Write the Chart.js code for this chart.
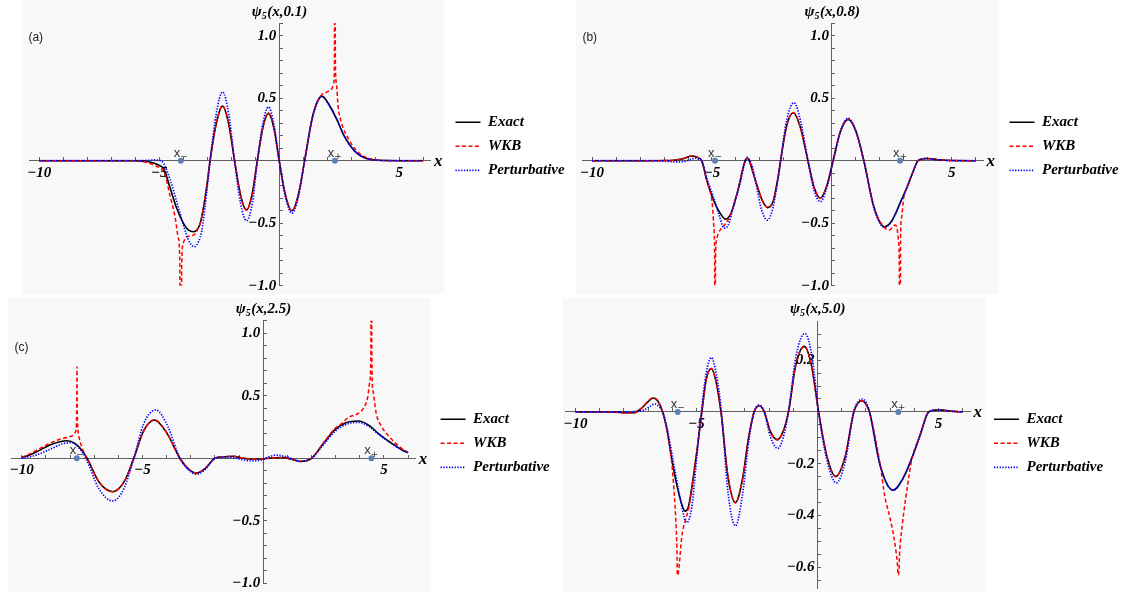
<!DOCTYPE html>
<html><head><meta charset="utf-8">
<script src="https://cdn.jsdelivr.net/npm/chart.js@4.4.1/dist/chart.umd.min.js"></script>
<style>
html,body{margin:0;padding:0;background:#fff;overflow:hidden;width:1127px;height:592px;}
.bg{position:absolute;background:#f8f8f8;}
canvas{position:absolute;left:0;top:0;}
</style></head><body>
<div class="bg" style="left:22px;top:0;width:422px;height:294px"></div>
<div class="bg" style="left:576px;top:0;width:423px;height:294px"></div>
<div class="bg" style="left:8px;top:298px;width:423px;height:294px"></div>
<div class="bg" style="left:563px;top:298px;width:422px;height:294px"></div>
<canvas id="ca" width="1127" height="592"></canvas>
<canvas id="cb" width="1127" height="592"></canvas>
<canvas id="cc" width="1127" height="592"></canvas>
<canvas id="cd" width="1127" height="592"></canvas>
<script>
// ---------- data ----------
const seriesNames = ['Exact', 'WKB', 'Perturbative'];
const titleParams = ['0.1', '0.8', '2.5', '5.0'];
const panelLetters = ['(a)', '(b)', '(c)', ''];
const turnSigns = ['\u2212', '+'];

const xTickValues = [-10, -5, 5];
const xTickText = ['\u221210', '\u22125', '5'];
const yTickValuesABC = [-1, -0.5, 0.5, 1];
const yTickTextABC = ['\u22121.0', '\u22120.5', '0.5', '1.0'];
const yTickValuesD = [-0.6, -0.4, -0.2, 0.2];
const yTickTextD = ['\u22120.6', '\u22120.4', '\u22120.2', '0.2'];

// panel (a) psi5(x,0.1)
const aExactX = [-10,-8,-6.5,-6,-5.5,-5.2,-4.97,-4.82,-4.54,-4.27,-3.99,-3.78,-3.57,-3.43,-3.29,-3.16,-3.02,-2.88,-2.62,-2.36,-2.1,-1.86,-1.61,-1.36,-1.13,-0.91,-0.68,-0.45,-0.22,0,0.26,0.53,0.8,1.06,1.4,1.78,2.1,2.4,2.7,3.0,3.3,3.6,4.0,4.5,5,6];
const aExactY = [0,0,0,-0.001,-0.006,-0.02,-0.04,-0.061,-0.221,-0.381,-0.501,-0.555,-0.568,-0.555,-0.501,-0.381,-0.208,0,0.3,0.437,0.29,0,-0.275,-0.395,-0.27,0,0.265,0.379,0.26,0,-0.275,-0.40,-0.27,0,0.36,0.517,0.44,0.33,0.2,0.11,0.05,0.02,0.005,0.001,0,0];
const aWkbX = [-10,-6,-5.8,-5.5,-5.2,-4.97,-4.82,-4.54,-4.34,-4.2,-4.14,-4.105,-4.095,-4.06,-4.0,-3.9,-3.7,-3.5,-3.4,-3.29,-3.16,-3.02,-2.88,-2.62,-2.36,-2.1,-1.86,-1.61,-1.36,-1.13,-0.91,-0.68,-0.45,-0.22,0,0.26,0.53,0.8,1.06,1.4,1.78,1.94,2.08,2.2,2.27,2.30,2.315,2.325,2.34,2.38,2.45,2.6,2.9,3.2,3.5,4.0,5,6];
const aWkbY = [0,-0.001,-0.005,-0.015,-0.035,-0.06,-0.078,-0.288,-0.448,-0.62,-0.82,-3,-3,-0.82,-0.66,-0.615,-0.603,-0.585,-0.55,-0.501,-0.381,-0.208,0,0.3,0.44,0.29,0,-0.275,-0.397,-0.27,0,0.265,0.382,0.26,0,-0.275,-0.402,-0.27,0,0.365,0.53,0.544,0.56,0.578,0.62,0.78,3,3,0.8,0.62,0.44,0.3,0.17,0.085,0.038,0.006,0,0];
const aPertX = [-10,-6,-5.5,-5.25,-5.0,-4.82,-4.54,-4.27,-3.99,-3.78,-3.54,-3.36,-3.22,-3.09,-2.95,-2.88,-2.62,-2.36,-2.1,-1.86,-1.61,-1.36,-1.11,-0.91,-0.68,-0.45,-0.22,0,0.26,0.53,0.8,1.06,1.4,1.76,2.1,2.4,2.7,3.0,3.3,3.6,4.0,4.5,5,6];
const aPertY = [0,0,0.002,0.006,0.003,-0.021,-0.155,-0.328,-0.514,-0.634,-0.688,-0.648,-0.555,-0.368,-0.128,0,0.38,0.55,0.37,0,-0.34,-0.48,-0.33,0,0.3,0.43,0.29,0,-0.29,-0.42,-0.29,0,0.355,0.512,0.44,0.33,0.2,0.11,0.05,0.02,0.005,0.001,0,0];
const aTurnX = [-4.1, 2.32];

// panel (b) psi5(x,0.8)
const bExactX = [-10,-7.5,-7.0,-6.6,-6.2,-5.85,-5.62,-5.43,-5.22,-4.94,-4.66,-4.43,-4.18,-3.9,-3.69,-3.6,-3.53,-3.46,-3.33,-3.12,-2.9,-2.68,-2.45,-2.26,-2.14,-1.9,-1.61,-1.32,-1.0,-0.74,-0.48,-0.22,0.05,0.36,0.68,1.0,1.33,1.76,2.19,2.5,2.84,3.14,3.4,3.59,3.97,4.4,5,6];
const bExactY = [0,0,0.001,0.004,0.016,0.038,0.027,0,-0.154,-0.314,-0.42,-0.468,-0.408,-0.221,-0.048,0.006,0.019,0.006,-0.07,-0.2,-0.32,-0.375,-0.325,-0.15,0,0.27,0.384,0.27,0,-0.215,-0.30,-0.205,0,0.235,0.331,0.235,0,-0.375,-0.528,-0.48,-0.34,-0.208,-0.08,0,0.018,0.008,0.001,0];
const bWkbX = [-10,-7.5,-7.0,-6.6,-6.2,-5.85,-5.62,-5.43,-5.22,-5.08,-4.98,-4.92,-4.89,-4.88,-4.87,-4.855,-4.82,-4.74,-4.6,-4.46,-4.32,-4.18,-3.9,-3.69,-3.6,-3.53,-3.46,-3.33,-3.12,-2.9,-2.68,-2.45,-2.26,-2.14,-1.9,-1.61,-1.32,-1.0,-0.74,-0.48,-0.22,0.05,0.36,0.68,1.0,1.33,1.76,2.19,2.38,2.52,2.63,2.72,2.78,2.81,2.835,2.845,2.86,2.9,2.99,3.14,3.4,3.59,3.97,4.4,5,6];
const bWkbY = [0,0,0.001,0.004,0.017,0.04,0.028,0,-0.154,-0.245,-0.36,-0.53,-0.8,-3,-3,-0.85,-0.64,-0.581,-0.541,-0.51,-0.47,-0.408,-0.221,-0.048,0.006,0.019,0.006,-0.07,-0.2,-0.32,-0.375,-0.325,-0.15,0,0.27,0.386,0.27,0,-0.215,-0.30,-0.205,0,0.235,0.332,0.235,0,-0.378,-0.535,-0.555,-0.535,-0.515,-0.545,-0.65,-0.85,-3,-3,-0.7,-0.46,-0.3,-0.208,-0.08,0,0.018,0.008,0.001,0];
const bPertX = [-10,-7.5,-7.0,-6.6,-6.2,-5.95,-5.72,-5.55,-5.43,-5.22,-4.94,-4.66,-4.5,-4.32,-4.11,-3.83,-3.65,-3.53,-3.43,-3.3,-3.14,-2.93,-2.69,-2.45,-2.26,-2.14,-1.88,-1.58,-1.3,-1.0,-0.74,-0.48,-0.22,0.05,0.36,0.68,1.0,1.33,1.76,2.19,2.5,2.84,3.14,3.4,3.59,3.97,4.4,5,6];
const bPertY = [0,0,-0.003,-0.009,-0.008,0.005,0.02,0.012,0,-0.141,-0.288,-0.46,-0.54,-0.514,-0.368,-0.181,-0.021,0.027,0.005,-0.06,-0.208,-0.395,-0.475,-0.368,-0.16,0,0.33,0.464,0.31,0,-0.24,-0.328,-0.22,0,0.24,0.34,0.235,0,-0.385,-0.533,-0.48,-0.34,-0.208,-0.08,0,0.018,0.008,0.001,0];
const bTurnX = [-4.875, 2.84];

// panel (c) psi5(x,2.5)
const cExactX = [-10,-9.7,-9.38,-8.83,-8.42,-8.11,-7.8,-7.52,-7.29,-6.8,-6.23,-5.75,-5.36,-4.95,-4.5,-4.0,-3.45,-3.1,-2.77,-2.4,-2.0,-1.6,-1.24,-0.9,-0.5,-0.1,0.3,0.8,1.15,1.52,2.0,2.5,2.95,3.4,3.93,4.4,4.76,5.36,5.8,6.0];
const cExactY = [0.006,0.025,0.053,0.107,0.133,0.141,0.12,0.067,0,-0.19,-0.267,-0.185,0,0.22,0.307,0.205,0,-0.085,-0.118,-0.08,0,0.013,0.016,0.004,-0.006,-0.006,0.003,0.006,-0.006,-0.025,0,0.12,0.225,0.283,0.299,0.262,0.2,0.115,0.062,0.045];
const cWkbX = [-10,-9.7,-9.38,-8.83,-8.42,-8.11,-7.86,-7.77,-7.735,-7.72,-7.712,-7.705,-7.69,-7.66,-7.63,-7.52,-7.4,-7.29,-6.8,-6.23,-5.75,-5.36,-4.95,-4.5,-4.0,-3.45,-3.1,-2.77,-2.4,-2.0,-1.6,-1.24,-0.9,-0.5,-0.1,0.3,0.8,1.15,1.52,2.0,2.5,2.95,3.25,3.55,3.85,4.15,4.33,4.42,4.46,4.475,4.485,4.5,4.54,4.68,4.91,5.28,5.66,6.0];
const cWkbY = [0.008,0.032,0.065,0.12,0.152,0.168,0.187,0.215,0.27,0.5,0.733,0.45,0.3,0.2,0.17,0.093,0.04,0,-0.19,-0.267,-0.185,0,0.22,0.308,0.205,0,-0.085,-0.118,-0.08,0,0.013,0.016,0.004,-0.006,-0.006,0.003,0.006,-0.006,-0.025,0,0.125,0.235,0.278,0.33,0.35,0.40,0.49,0.62,0.85,3,3,0.8,0.55,0.36,0.253,0.16,0.09,0.047];
const cPertX = [-10,-9.7,-9.38,-8.83,-8.28,-7.93,-7.58,-7.34,-6.8,-6.23,-5.75,-5.36,-4.95,-4.45,-3.95,-3.45,-3.1,-2.77,-2.4,-2.0,-1.6,-1.24,-0.9,-0.5,-0.1,0.2,0.56,1.0,1.5,2.0,2.5,2.95,3.4,3.93,4.4,4.76,5.36,5.8,6.0];
const cPertY = [0.002,0.012,0.027,0.072,0.118,0.125,0.072,0,-0.245,-0.341,-0.235,0,0.275,0.387,0.255,0,-0.09,-0.128,-0.088,0,0.008,0.006,-0.01,-0.02,-0.014,0.01,0.026,0.01,-0.022,0,0.11,0.212,0.268,0.288,0.252,0.195,0.112,0.06,0.044];
const cTurnX = [-7.72, 4.48];

// panel (d) psi5(x,5.0)
const dExactX = [-10,-8.5,-8.0,-7.6,-7.3,-7.0,-6.79,-6.6,-6.4,-6.23,-6.03,-5.82,-5.61,-5.47,-5.33,-5.2,-4.99,-4.78,-4.6,-4.39,-4.2,-3.99,-3.7,-3.39,-3.1,-2.85,-2.62,-2.4,-2.2,-1.95,-1.66,-1.42,-1.2,-0.9,-0.55,-0.25,0.045,0.4,0.75,1.15,1.5,1.68,1.84,2.0,2.15,2.6,3.12,3.55,3.9,4.24,4.6,5.02,5.5,6];
const dExactY = [0,0,-0.003,-0.003,0.012,0.04,0.054,0.042,0,-0.064,-0.179,-0.28,-0.357,-0.383,-0.364,-0.294,-0.154,0,0.125,0.168,0.12,0,-0.25,-0.35,-0.26,-0.1,0,0.024,0,-0.075,-0.107,-0.075,0,0.18,0.253,0.18,0,-0.175,-0.249,-0.17,0,0.035,0.043,0.03,0,-0.21,-0.302,-0.254,-0.178,-0.09,0,0.008,0.003,0];
const dWkbX = [-10,-8.5,-8.0,-7.6,-7.3,-7.0,-6.79,-6.6,-6.4,-6.23,-6.03,-5.92,-5.85,-5.81,-5.79,-5.77,-5.71,-5.61,-5.47,-5.33,-5.2,-4.99,-4.78,-4.6,-4.39,-4.2,-3.99,-3.7,-3.39,-3.1,-2.85,-2.62,-2.4,-2.2,-1.95,-1.66,-1.42,-1.2,-0.9,-0.55,-0.25,0.045,0.4,0.75,1.15,1.5,1.68,1.84,2.0,2.15,2.6,2.79,2.99,3.2,3.3,3.335,3.35,3.4,3.51,3.65,3.79,3.9,4.24,4.6,5.02,5.5,6];
const dWkbY = [0,0,-0.004,-0.003,0.013,0.042,0.055,0.043,0,-0.066,-0.191,-0.318,-0.43,-0.53,-0.63,-0.63,-0.585,-0.483,-0.42,-0.375,-0.3,-0.154,0,0.125,0.168,0.12,0,-0.25,-0.352,-0.26,-0.1,0,0.024,0,-0.075,-0.108,-0.075,0,0.18,0.253,0.18,0,-0.175,-0.25,-0.17,0,0.035,0.043,0.03,0,-0.21,-0.33,-0.407,-0.509,-0.585,-0.63,-0.63,-0.535,-0.432,-0.33,-0.242,-0.182,-0.09,0,0.008,0.003,0];
const dPertX = [-10,-8.0,-7.5,-7.2,-6.95,-6.72,-6.55,-6.4,-6.23,-5.96,-5.68,-5.41,-5.2,-5.02,-4.8,-4.6,-4.39,-4.18,-3.97,-3.7,-3.39,-3.1,-2.85,-2.62,-2.4,-2.2,-1.95,-1.64,-1.42,-1.2,-0.9,-0.52,-0.22,0.045,0.4,0.78,1.15,1.5,1.68,1.86,2.02,2.15,2.6,3.12,3.55,3.9,4.24,4.6,5.02,5.5,6];
const dPertY = [0,0,0.002,0.006,0.02,0.031,0.02,0,-0.058,-0.191,-0.331,-0.427,-0.37,-0.205,0,0.15,0.21,0.145,0,-0.31,-0.44,-0.32,-0.12,0,0.027,0,-0.095,-0.141,-0.1,0,0.21,0.303,0.21,0,-0.19,-0.274,-0.19,0,0.04,0.05,0.035,0,-0.21,-0.302,-0.254,-0.178,-0.09,0,0.008,0.003,0];
const dTurnX = [-5.78, 3.34];

// ---------- styles ----------
const seriesColors = ['#000000', '#ff0000', '#0000ff'];
const seriesDash = [[], [4, 2.5], [1.3, 1.5]];
const seriesWidth = [1.6, 1.5, 1.7];
const axisColor = '#606060';
const W = 1127, H = 592;

const panels = [
  { id: 'ca', ex: [aExactX, aExactY], wkb: [aWkbX, aWkbY], pt: [aPertX, aPertY], turn: aTurnX,
    area: { l: 29.1, r: 430.9, t: 23.2, b: 285.7 }, xr: [-10.42, 6.32], yr: [-1, 1.1], ystep: 0.1,
    yv: yTickValuesABC, yt: yTickTextABC, leg: { x: 455.5, y: 122.3 }, let: { x: 28.4, y: 37.7 }, titleY: 12.5 },
  { id: 'cb', ex: [bExactX, bExactY], wkb: [bWkbX, bWkbY], pt: [bPertX, bPertY], turn: bTurnX,
    area: { l: 582.0, r: 983.5, t: 23.2, b: 285.7 }, xr: [-10.42, 6.32], yr: [-1, 1.1], ystep: 0.1,
    yv: yTickValuesABC, yt: yTickTextABC, leg: { x: 1009.5, y: 122.3 }, let: { x: 582.4, y: 37.7 }, titleY: 12.5 },
  { id: 'cc', ex: [cExactX, cExactY], wkb: [cWkbX, cWkbY], pt: [cPertX, cPertY], turn: cTurnX,
    area: { l: 11.6, r: 415.8, t: 320.8, b: 583.3 }, xr: [-10.42, 6.32], yr: [-1, 1.1], ystep: 0.1,
    yv: yTickValuesABC, yt: yTickTextABC, leg: { x: 440.6, y: 419.3 }, let: { x: 14.5, y: 347.8 }, titleY: 309 },
  { id: 'cd', ex: [dExactX, dExactY], wkb: [dWkbX, dWkbY], pt: [dPertX, dPertY], turn: dTurnX,
    area: { l: 565.4, r: 970.4, t: 321.3, b: 591.7 }, xr: [-10.42, 6.32], yr: [-0.68, 0.35], ystep: 0.05,
    yv: yTickValuesD, yt: yTickTextD, leg: { x: 994, y: 419.3 }, let: { x: 0, y: 0 }, titleY: 309 }
];

const serif = 'Liberation Serif';
const tickFont = { family: serif, size: 15, style: 'italic', weight: 'bold' };

function pts(xs, ys) { return xs.map((x, i) => ({ x: x, y: ys[i] })); }
function tickCb(vals, texts, pad) {
  return function (v) {
    const i = vals.findIndex(t => Math.abs(t - v) < 1e-6);
    return i < 0 ? '' : texts[i] + pad;
  };
}
function zeroPad(scale) { scale.paddingLeft = 0; scale.paddingRight = 0; scale.paddingTop = 0; scale.paddingBottom = 0; }

const placeLegend = {
  id: 'placeLegend',
  afterLayout(chart, args, o) {
    const lg = chart.legend;
    if (!lg) return;
    const pad = lg.options.labels.padding;
    const fs = lg.options.labels.font.size;
    const w = lg.width, h = lg.height;
    lg.left = o.x - pad; lg.right = lg.left + w;
    lg.top = o.y - pad - fs / 2; lg.bottom = lg.top + h;
  }
};

const deco = {
  id: 'deco',
  afterDraw(chart, args, o) {
    const ctx = chart.ctx, ca = chart.chartArea;
    const x0 = chart.scales.x.getPixelForValue(0), y0 = chart.scales.y.getPixelForValue(0);
    ctx.save();
    ctx.fillStyle = '#000';
    ctx.textAlign = 'left';
    ctx.textBaseline = 'middle';
    const big = 'italic bold 15px "' + serif + '"', small = 'italic bold 10px "' + serif + '"';
    const rest = '(x,' + o.param + ')';
    ctx.font = big; const w1 = ctx.measureText('\u03C8').width; const w3 = ctx.measureText(rest).width;
    ctx.font = small; const w2 = ctx.measureText('5').width;
    let tx = x0 - (w1 + w2 + w3) / 2;
    ctx.font = big; ctx.fillText('\u03C8', tx, o.titleY); tx += w1;
    ctx.font = small; ctx.fillText('5', tx, o.titleY + 4); tx += w2 + 0.5;
    ctx.font = big; ctx.fillText(rest, tx, o.titleY);
    ctx.font = 'italic bold 17px "' + serif + '"';
    ctx.fillText('x', ca.right + 3, y0 + 1);
    if (o.letter) {
      ctx.font = '12px "Liberation Sans"'; ctx.fillStyle = '#222';
      ctx.fillText(o.letter, o.lx, o.ly);
    }
    const meta = chart.getDatasetMeta(3);
    ctx.fillStyle = '#333';
    ctx.textBaseline = 'alphabetic';
    meta.data.forEach((p, i) => {
      ctx.font = '13px "Liberation Sans"'; const wx = ctx.measureText('x').width;
      ctx.font = '9px "DejaVu Sans"'; const ws = ctx.measureText(turnSigns[i]).width;
      const lx = p.x - (wx + ws) / 2;
      ctx.font = '13px "Liberation Sans"'; ctx.fillText('x', lx, y0 - 4);
      ctx.font = '9px "DejaVu Sans"'; ctx.fillText(turnSigns[i], lx + wx, y0 - 1.5);
    });
    ctx.restore();
  }
};

panels.forEach((P, k) => {
  const srcs = [P.ex, P.wkb, P.pt];
  const datasets = srcs.map((s, i) => ({
    label: seriesNames[i], data: pts(s[0], s[1]), borderColor: seriesColors[i], backgroundColor: seriesColors[i],
    borderWidth: seriesWidth[i], borderDash: seriesDash[i], pointRadius: 0, fill: false,
    cubicInterpolationMode: 'monotone', order: 3 - i
  }));
  datasets.push({ label: 'turning points', data: P.turn.map(x => ({ x: x, y: 0 })), showLine: false,
    pointRadius: 3, pointBackgroundColor: '#5e81b5', pointBorderWidth: 0, order: 0 });

  new Chart(document.getElementById(P.id), {
    type: 'line',
    data: { datasets: datasets },
    plugins: [placeLegend, deco],
    options: {
      responsive: false, animation: false, events: [],
      layout: { padding: { left: P.area.l, right: W - P.area.r, top: P.area.t, bottom: H - P.area.b } },
      scales: {
        x: {
          type: 'linear', min: P.xr[0], max: P.xr[1], position: { y: 0 },
          grid: { drawOnChartArea: false, drawTicks: true, tickLength: -4, color: axisColor, lineWidth: 1 },
          border: { display: true, color: axisColor, width: 1 },
          ticks: { stepSize: 1, autoSkip: false, maxRotation: 0, minRotation: 0, includeBounds: false, padding: 7,
            color: '#000', font: tickFont, callback: tickCb(xTickValues, xTickText, '') },
          afterFit: zeroPad
        },
        y: {
          type: 'linear', min: P.yr[0], max: P.yr[1], position: { x: 0 },
          grid: { drawOnChartArea: false, drawTicks: true, tickLength: -4, color: axisColor, lineWidth: 1 },
          border: { display: true, color: axisColor, width: 1 },
          ticks: { stepSize: P.ystep, autoSkip: false, includeBounds: false, padding: 3,
            color: '#000', font: tickFont, callback: tickCb(P.yv, P.yt, '\u2009') },
          afterFit: zeroPad
        }
      },
      plugins: {
        legend: {
          display: true, position: 'chartArea', align: 'start',
          labels: {
            usePointStyle: true, pointStyleWidth: 25, padding: 9, color: '#000',
            font: { family: serif, size: 15, style: 'italic', weight: 'bold' },
            generateLabels(chart) {
              return chart.data.datasets
                .map((ds, i) => ({ text: ds.label, datasetIndex: i, strokeStyle: ds.borderColor, fillStyle: ds.borderColor,
                  fontColor: '#000', lineWidth: ds.borderWidth, lineDash: ds.borderDash, pointStyle: 'line', hidden: false }))
                .filter(it => seriesNames.includes(it.text));
            }
          }
        },
        tooltip: { enabled: false },
        placeLegend: { x: P.leg.x, y: P.leg.y },
        deco: { param: titleParams[k], titleY: P.titleY, letter: panelLetters[k], lx: P.let.x, ly: P.let.y }
      }
    }
  });
});
</script>
</body></html>
